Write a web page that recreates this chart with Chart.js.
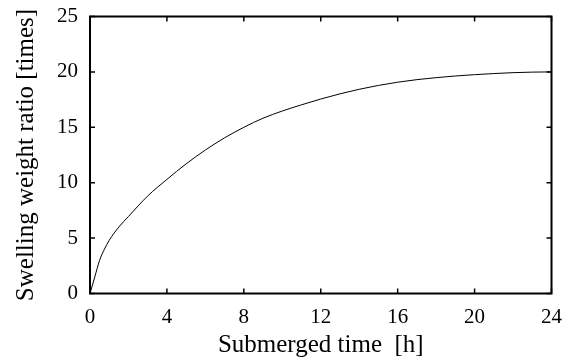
<!DOCTYPE html>
<html>
<head>
<meta charset="utf-8">
<script src="https://cdn.jsdelivr.net/npm/chart.js@4"></script>
<style>
  html, body { margin: 0; padding: 0; background: #fff; }
  #wrap { width: 565px; height: 361px; }
</style>
</head>
<body>
<div id="wrap"><canvas id="chart" width="565" height="361"></canvas></div>
<script>
// submerged time [h]
const hours = [0, 0.25, 0.5, 0.75, 1, 1.5, 2, 3, 4, 5, 6, 7, 8, 9, 10, 11, 12, 13, 14, 15, 16, 17, 18, 19, 20, 21, 22, 23, 24];
// swelling weight ratio [times]
const ratio = [0, 1.5, 3.0, 4.0, 4.8, 6.0, 6.95, 8.8, 10.3, 11.7, 12.95, 14.05, 15.0, 15.82, 16.47, 17.03, 17.55, 18.02, 18.43, 18.78, 19.07, 19.3, 19.48, 19.63, 19.75, 19.85, 19.93, 19.98, 20.0];
const xTicks = [0, 4, 8, 12, 16, 20, 24];
const yTicks = [0, 5, 10, 15, 20, 25];

const serif = '"Liberation Serif", "Times New Roman", serif';

// frame with inward ticks on all four sides
const framePlugin = {
  id: 'frame',
  afterDraw(chart) {
    const ctx = chart.ctx;
    const a = chart.chartArea;
    const xs = chart.scales.x;
    const ys = chart.scales.y;
    const len = 5;
    ctx.save();
    ctx.strokeStyle = '#000';
    ctx.lineWidth = 1.5;
    ctx.beginPath();
    xTicks.forEach(v => {
      const px = xs.getPixelForValue(v);
      ctx.moveTo(px, a.bottom); ctx.lineTo(px, a.bottom - len);
      ctx.moveTo(px, a.top); ctx.lineTo(px, a.top + len);
    });
    yTicks.forEach(v => {
      const py = ys.getPixelForValue(v);
      ctx.moveTo(a.left, py); ctx.lineTo(a.left + len, py);
      ctx.moveTo(a.right, py); ctx.lineTo(a.right - len, py);
    });
    ctx.stroke();
    ctx.lineWidth = 2;
    ctx.strokeRect(a.left, a.top, a.right - a.left, a.bottom - a.top);
    ctx.restore();
  }
};

new Chart(document.getElementById('chart'), {
  type: 'line',
  data: {
    datasets: [{
      data: hours.map((h, i) => ({ x: h, y: ratio[i] })),
      borderColor: '#000',
      borderWidth: 1,
      pointRadius: 0,
      cubicInterpolationMode: 'monotone',
      fill: false
    }]
  },
  options: {
    responsive: false,
    animation: false,
    layout: { padding: { top: 16.5, right: 13.5, bottom: 0, left: 0 } },
    plugins: { legend: { display: false }, tooltip: { enabled: false } },
    scales: {
      x: {
        type: 'linear',
        min: 0, max: 24,
        afterBuildTicks: s => { s.ticks = xTicks.map(v => ({ value: v })); },
        afterFit: s => { s.height = 67.5; s.paddingLeft = 0; s.paddingRight = 0; },
        grid: { display: false, drawTicks: false },
        border: { display: false },
        ticks: { color: '#000', padding: 11, maxRotation: 0, font: { family: serif, size: 21 } },
        title: { display: true, text: 'Submerged time  [h]', color: '#000', padding: { top: 0, bottom: 0.5 }, font: { family: serif, size: 25 } }
      },
      y: {
        min: 0, max: 25,
        afterBuildTicks: s => { s.ticks = yTicks.map(v => ({ value: v })); },
        afterFit: s => { s.width = 90; s.paddingTop = 0; s.paddingBottom = 0; },
        grid: { display: false, drawTicks: false },
        border: { display: false },
        ticks: { color: '#000', padding: 12, font: { family: serif, size: 21 } },
        title: { display: true, text: 'Swelling weight ratio [times]', color: '#000', padding: { top: 11, bottom: 0 }, font: { family: serif, size: 25 } }
      }
    }
  },
  plugins: [framePlugin]
});
</script>
</body>
</html>
